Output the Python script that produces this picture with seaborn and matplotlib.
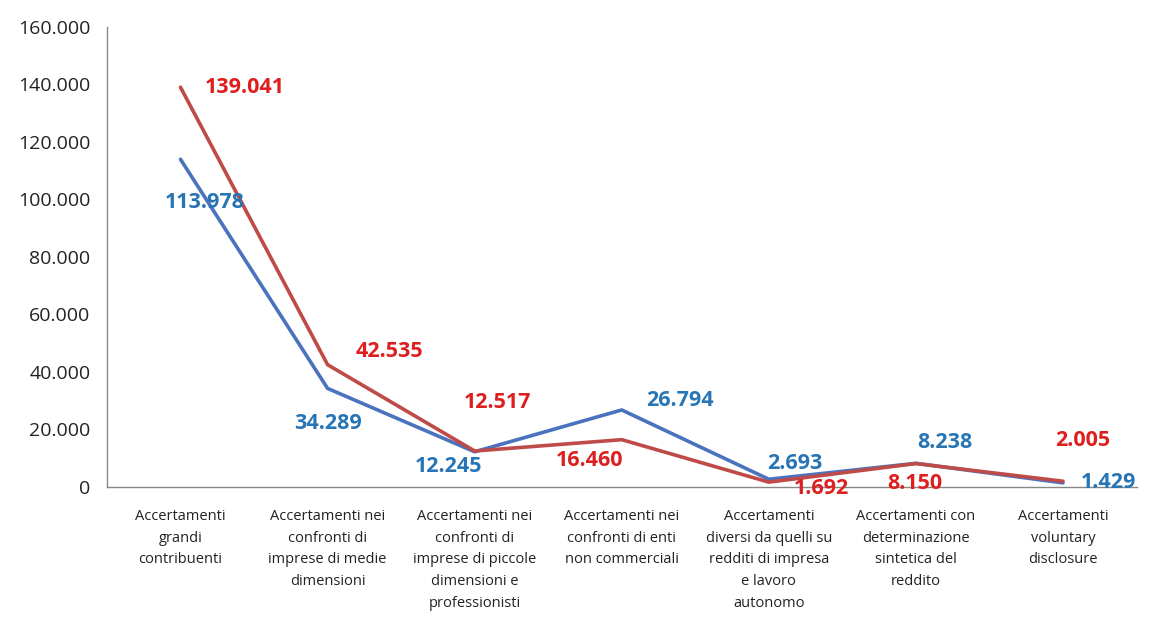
import matplotlib
matplotlib.use("Agg")
import matplotlib.pyplot as plt
import seaborn as sns
import pandas as pd
import numpy as np
from matplotlib.ticker import FuncFormatter, FixedLocator

categorie = [
    "Accertamenti\ngrandi\ncontribuenti",
    "Accertamenti nei\nconfronti di\nimprese di medie\ndimensioni",
    "Accertamenti nei\nconfronti di\nimprese di piccole\ndimensioni e\nprofessionisti",
    "Accertamenti nei\nconfronti di enti\nnon commerciali",
    "Accertamenti\ndiversi da quelli su\nredditi di impresa\ne lavoro\nautonomo",
    "Accertamenti con\ndeterminazione\nsintetica del\nreddito",
    "Accertamenti\nvoluntary\ndisclosure",
]
serie_blu = [113978, 34289, 12245, 26794, 2693, 8238, 1429]
serie_rossa = [139041, 42535, 12517, 16460, 1692, 8150, 2005]

# label offsets in pixels (dx, dy) relative to the point
off_blu = [(24, -43), (0, -35), (-26, -15), (58, 9), (26, 16), (29, 21), (45, 0)]
off_rossa = [(64, 0), (62, 13), (23, 49), (-32, -21), (53, -6), (-1, -20), (20, 41)]

col_blu_line = "#4A72BE"
col_rossa_line = "#BE4B48"
col_blu_txt = "#2775B5"
col_rossa_txt = "#DD1F1F"

sns.set_style("white")
plt.rcParams["font.family"] = ["Open Sans", "DejaVu Sans"]

df = pd.DataFrame({
    "pos": list(range(len(categorie))) * 2,
    "valore": serie_blu + serie_rossa,
    "serie": ["blu"] * len(categorie) + ["rossa"] * len(categorie),
})

fig = plt.figure(figsize=(11.55, 6.17), dpi=100)
ax = fig.add_axes([0.0926, 0.2107, 0.8914, 0.7456])

sns.lineplot(data=df, x="pos", y="valore", hue="serie",
             palette={"blu": col_blu_line, "rossa": col_rossa_line},
             linewidth=2.6, legend=False, ax=ax)

for vals, offs, col in [(serie_blu, off_blu, col_blu_txt), (serie_rossa, off_rossa, col_rossa_txt)]:
    for i, (v, (dx, dy)) in enumerate(zip(vals, offs)):
        ax.annotate(f"{v:,}".replace(",", "."), (i, v), xytext=(dx, dy),
                    textcoords="offset pixels", ha="center", va="center",
                    color=col, fontsize=15.5, fontweight="bold")

ax.set_xlim(-0.5, len(categorie) - 0.5)
ax.set_ylim(0, 160000)
ax.yaxis.set_major_locator(FixedLocator(np.arange(0, 160001, 20000)))
ax.yaxis.set_major_formatter(FuncFormatter(lambda v, p: f"{v:,.0f}".replace(",", ".")))

ax.set_xticks(range(len(categorie)))
ax.set_xticklabels(categorie, fontsize=10.5, color="#222222", linespacing=1.6, va="top")
ax.set_xticks(np.arange(-0.5, len(categorie), 1.0), minor=True)
ax.tick_params(axis="x", which="major", length=0, pad=16)
ax.tick_params(axis="x", which="minor", length=6, color="#888888", width=1)
ax.tick_params(axis="y", length=6, color="#888888", width=1, labelsize=14, labelcolor="#222222", pad=6)

ax.set_xlabel("")
ax.set_ylabel("")
sns.despine(ax=ax)
for s in ["left", "bottom"]:
    ax.spines[s].set_color("#888888")
    ax.spines[s].set_linewidth(1)

fig.savefig("out.png", dpi=100)
